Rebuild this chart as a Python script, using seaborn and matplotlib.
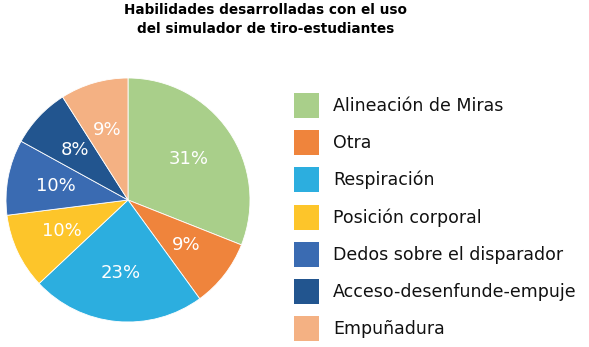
import matplotlib
matplotlib.use("Agg")
import matplotlib.pyplot as plt
import seaborn as sns
from matplotlib.patches import Patch

# data
labels = ["Alineación de Miras", "Otra", "Respiración", "Posición corporal",
          "Dedos sobre el disparador", "Acceso-desenfunde-empuje", "Empuñadura"]
values = [31, 9, 23, 10, 10, 8, 9]
colors = ["#A9CF8A", "#EF843C", "#2CAEDF", "#FDC52A", "#3A6BB2", "#22558F", "#F4B183"]

sns.set_style("white")
plt.rcParams['font.family'] = ['DejaVu Sans']
plt.rcParams['text.color'] = "#111111"

fig = plt.figure(figsize=(5.89, 3.47), dpi=100)
W, H = 589, 347

# pie axes: centre (128, 200) px from top, radius 122 px
r = 122
cx, cy = 128, 200
ax = fig.add_axes([(cx - r) / W, (H - cy - r) / H, 2 * r / W, 2 * r / H])
pal = sns.color_palette(colors)
wedges, texts, autotexts = ax.pie(values, colors=pal, startangle=90, counterclock=False,
                                  autopct=lambda p: f"{p:.0f}%", pctdistance=0.6,
                                  wedgeprops=dict(edgecolor="white", linewidth=0.6))
for t in autotexts:
    t.set_color("white")
    t.set_fontsize(13)
ax.set_xlim(-1, 1)
ax.set_ylim(-1, 1)
ax.set_aspect("equal")
ax.axis("off")

# title
fig.text(266 / W, 1 - 3.5 / H, "Habilidades desarrolladas con el uso\ndel simulador de tiro-estudiantes",
         ha="center", va="top", fontsize=9.8, fontweight="bold", linespacing=1.4,
         color="black")

# legend
handles = [Patch(facecolor=c, edgecolor="none") for c in colors]
fs = 12.5
leg = fig.legend(handles, labels, loc="upper left", bbox_to_anchor=(294 / W, 1 - 93 / H),
                 frameon=False, fontsize=fs, handlelength=1.44, handleheight=1.84,
                 handletextpad=0.8, labelspacing=0.7, borderpad=0, borderaxespad=0)
for t in leg.get_texts():
    t.set_color("#111111")

fig.savefig("out.png", dpi=100)
